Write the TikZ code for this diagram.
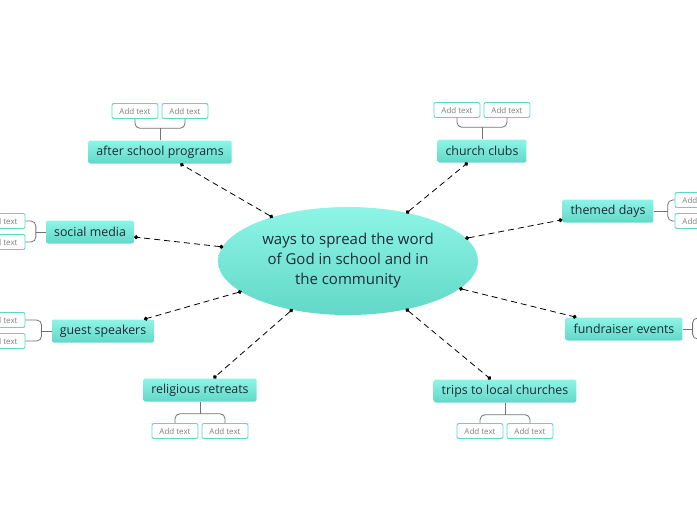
\documentclass[tikz,border=0pt]{standalone}
\usepackage{fontspec}
\setmainfont{Open Sans}
\usepackage{tikz}
\usetikzlibrary{arrows.meta,positioning,calc,shapes.geometric}
\definecolor{acc}{HTML}{8ef5e6}
\definecolor{acc2}{HTML}{62d8c8}
\definecolor{ink}{HTML}{1e2b36}
\definecolor{rim}{HTML}{5cd8c6}

\begin{document}
\begin{tikzpicture}[x=1pt,y=-1pt,
  hubnode/.style={ellipse,minimum width=260,minimum height=108,top color=acc,bottom color=acc2,
    text=ink,align=center,font=\fontsize{15}{20}\selectfont},
  topic/.style={rounded corners=2pt,minimum height=23,inner xsep=8,top color=acc,bottom color=acc2,
    text=ink,font=\fontsize{12.4}{14}\selectfont},
  addbox/.style={draw=rim,line width=0.9pt,fill=white,rounded corners=2pt,minimum width=46,minimum height=15,
    inner sep=0pt,text=black!50,font=\fontsize{8}{9}\selectfont},
  link/.style={dash pattern=on 6pt off 4pt,line width=0.8pt,{Circle[length=4pt]}-{Circle[length=4pt]},shorten <=-1pt},
  brk/.style={draw=black!55,line width=0.8pt,rounded corners=5pt}]
\useasboundingbox (0,0) rectangle (697,520);
\node[hubnode](hub) at (348,261){ways to spread the word\\of God in school and in\\the community};
% main topics
\node[topic](asp) at (160,152){after school programs};
\node[topic](cc) at (482,151){church clubs};
\node[topic](td) at (608,211){themed days};
\node[topic](sm) at (90,232){social media};
\node[topic](gs) at (103,331){guest speakers};
\node[topic](fe) at (624,329){fundraiser events};
\node[topic](rr) at (200,390){religious retreats};
\node[topic](tl) at (505,391){trips to local churches};
\foreach \t in {asp,cc,td,sm,gs,fe,rr,tl} \draw[link] (hub) -- (\t);
% add text boxes
\node[addbox](asp-a) at (135,111){Add text};
\node[addbox](asp-b) at (185,111){Add text};
\node[addbox](cc-a) at (457,110){Add text};
\node[addbox](cc-b) at (507,110){Add text};
\node[addbox](td-a) at (698,200){Add text};
\node[addbox](td-b) at (698,221){Add text};
\node[addbox](sm-a) at (2,221){Add text};
\node[addbox](sm-b) at (2,242){Add text};
\node[addbox](gs-a) at (2,320){Add text};
\node[addbox](gs-b) at (2,341){Add text};
\node[addbox](fe-a) at (722,318){Add text};
\node[addbox](fe-b) at (722,339){Add text};
\node[addbox](rr-a) at (175,431){Add text};
\node[addbox](rr-b) at (225,431){Add text};
\node[addbox](tl-a) at (480,431){Add text};
\node[addbox](tl-b) at (530,431){Add text};
% brackets
\coordinate(asp-j) at ($(asp.north)+(0,-12)$);
\draw[brk] (asp.north) -- (asp-j); \draw[brk] (asp-a.south) |- (asp-j) -| (asp-b.south);
\coordinate(cc-j) at ($(cc.north)+(0,-12)$);
\draw[brk] (cc.north) -- (cc-j); \draw[brk] (cc-a.south) |- (cc-j) -| (cc-b.south);
\coordinate(rr-j) at ($(rr.south)+(0,12)$);
\draw[brk] (rr.south) -- (rr-j); \draw[brk] (rr-a.north) |- (rr-j) -| (rr-b.north);
\coordinate(tl-j) at ($(tl.south)+(0,12)$);
\draw[brk] (tl.south) -- (tl-j); \draw[brk] (tl-a.north) |- (tl-j) -| (tl-b.north);
\coordinate(sm-j) at ($(sm.west)+(-10,0)$);
\draw[brk] (sm.west) -- (sm-j); \draw[brk] (sm-a.east) -| (sm-j) |- (sm-b.east);
\coordinate(gs-j) at ($(gs.west)+(-10,0)$);
\draw[brk] (gs.west) -- (gs-j); \draw[brk] (gs-a.east) -| (gs-j) |- (gs-b.east);
\coordinate(td-j) at ($(td.east)+(14,0)$);
\draw[brk] (td.east) -- (td-j); \draw[brk] (td-a.west) -| (td-j) |- (td-b.west);
\coordinate(fe-j) at ($(fe.east)+(10,0)$);
\draw[brk] (fe.east) -- (fe-j); \draw[brk] (fe-a.west) -| (fe-j) |- (fe-b.west);
\end{tikzpicture}
\end{document}
